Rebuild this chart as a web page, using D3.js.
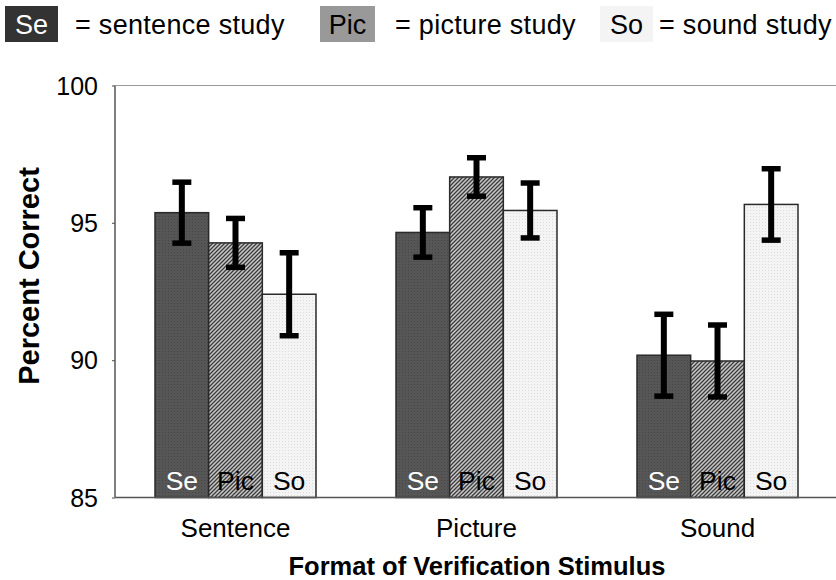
<!DOCTYPE html>
<html><head><meta charset="utf-8">
<script src="https://cdn.jsdelivr.net/npm/d3@7"></script>
<style>body{margin:0;background:#fff}svg{display:block;font-family:"Liberation Sans",Arial,Helvetica,sans-serif}</style>
</head><body><svg id="c" width="836" height="580"></svg>
<script>
const groups = ["Sentence", "Picture", "Sound"];
const studies = ["Se", "Pic", "So"];
const studyNames = ["sentence study", "picture study", "sound study"];
const seValues = [95.37, 94.65, 90.18];
const picValues = [94.27, 96.67, 89.97];
const soValues = [92.40, 95.45, 95.67];
const seErr = [1.11, 0.9, 1.49];
const picErr = [0.89, 0.70, 1.31];
const soErr = [1.51, 1.0, 1.30];
const yTicks = [85, 90, 95, 100];

const values = [seValues, picValues, soValues];
const errs = [seErr, picErr, soErr];

const svg = d3.select("#c");
const defs = svg.append("defs");
const pSe = defs.append("pattern").attr("id","pSe").attr("patternUnits","userSpaceOnUse").attr("width",3).attr("height",3);
pSe.append("rect").attr("width",3).attr("height",3).attr("fill","#565656");
pSe.append("rect").attr("width",1).attr("height",1).attr("fill","#474747");
const pPic = defs.append("pattern").attr("id","pPic").attr("patternUnits","userSpaceOnUse").attr("width",4).attr("height",4);
pPic.append("rect").attr("width",4).attr("height",4).attr("fill","#c8c8c8");
pPic.append("path").attr("d","M-1,1 l2,-2 M0,4 l4,-4 M3,5 l2,-2").attr("stroke","#3c3c3c").attr("stroke-width",1.3);
const pSo = defs.append("pattern").attr("id","pSo").attr("patternUnits","userSpaceOnUse").attr("width",3).attr("height",3);
pSo.append("rect").attr("width",3).attr("height",3).attr("fill","#f4f4f4");
pSo.append("rect").attr("width",1).attr("height",1).attr("fill","#dcdcdc");
const fills = ["url(#pSe)","url(#pPic)","url(#pSo)"];
const textCol = ["#fff","#000","#000"];

const y = d3.scaleLinear().domain([85,100]).range([497.5,85.5]);
const x0 = d3.scaleBand().domain(groups).range([115,838]).paddingInner(0.332).paddingOuter(0.166);
const x1 = d3.scaleBand().domain(studies).range([0,x0.bandwidth()]);

// Legend
const legBoxes = [{x:5,w:53,fill:"#333",tc:"#fff",tx:75},{x:320,w:55,fill:"#999",tc:"#000",tx:395},{x:600,w:53,fill:"#f4f4f4",tc:"#000",tx:659}];
const leg = svg.append("g");
studies.forEach((s,i)=>{
  const b = legBoxes[i];
  leg.append("rect").attr("x",b.x).attr("y",6).attr("width",b.w).attr("height",36).attr("fill",b.fill);
  leg.append("text").attr("x",b.x+b.w/2).attr("y",34).attr("text-anchor","middle").attr("font-size",27).attr("fill",b.tc).text(s);
  leg.append("text").attr("x",b.tx).attr("y",34).attr("font-size",27).attr("letter-spacing",0.3).attr("fill","#000").text("= "+studyNames[i]);
});

// Axes
const yAxis = svg.append("g").attr("transform","translate(115,0)")
  .call(d3.axisLeft(y).tickValues(yTicks).tickSize(3).tickFormat(d3.format("d")));
yAxis.select(".domain").remove();
yAxis.selectAll(".tick line").attr("stroke","#666").attr("stroke-width",1.2);
yAxis.selectAll(".tick text").attr("font-size",25).attr("x",-17).attr("dy","0.35em").attr("fill","#000").style("font-family","'Liberation Sans',Arial,sans-serif");

// Bars
const g = svg.append("g");
groups.forEach((grp,gi)=>{
  studies.forEach((s,si)=>{
    const v = values[si][gi];
    const bx = x0(grp)+x1(s);
    g.append("rect").attr("x",bx).attr("y",y(v)).attr("width",x1.bandwidth()).attr("height",y(85)-y(v))
      .attr("fill",fills[si]).attr("stroke","#2a2a2a").attr("stroke-width",1.5);
    g.append("text").attr("x",bx+x1.bandwidth()/2).attr("y",490).attr("text-anchor","middle")
      .attr("font-size",26.5).attr("fill",textCol[si]).text(s);
  });
});
// Error bars
groups.forEach((grp,gi)=>{
  studies.forEach((s,si)=>{
    const v = values[si][gi], e = errs[si][gi];
    const cx = x0(grp)+x1(s)+x1.bandwidth()/2;
    g.append("line").attr("x1",cx).attr("x2",cx).attr("y1",y(v+e)).attr("y2",y(v-e)).attr("stroke","#000").attr("stroke-width",6);
    [v+e, v-e].forEach(t=>{
      g.append("line").attr("x1",cx-9.5).attr("x2",cx+9.5).attr("y1",y(t)).attr("y2",y(t)).attr("stroke","#000").attr("stroke-width",5.5);
    });
  });
});

// Frame lines
svg.append("line").attr("x1",115).attr("x2",115).attr("y1",y(100)).attr("y2",y(85)).attr("stroke","#555").attr("stroke-width",1.5);
svg.append("line").attr("x1",115).attr("x2",836).attr("y1",y(85)).attr("y2",y(85)).attr("stroke","#555").attr("stroke-width",1.5);
svg.append("line").attr("x1",115).attr("x2",836).attr("y1",y(100)).attr("y2",y(100)).attr("stroke","#999").attr("stroke-width",1);

// X labels
groups.forEach(grp=>{
  svg.append("text").attr("x",x0(grp)+x0.bandwidth()/2).attr("y",537).attr("text-anchor","middle").attr("font-size",26).text(grp);
});
svg.append("text").attr("x",477).attr("y",575).attr("text-anchor","middle").attr("font-size",25.5).attr("font-weight","bold").text("Format of Verification Stimulus");
svg.append("text").attr("transform","translate(39,276) rotate(-90)").attr("text-anchor","middle").attr("font-size",29).attr("font-weight","bold").text("Percent Correct");
</script></body></html>
